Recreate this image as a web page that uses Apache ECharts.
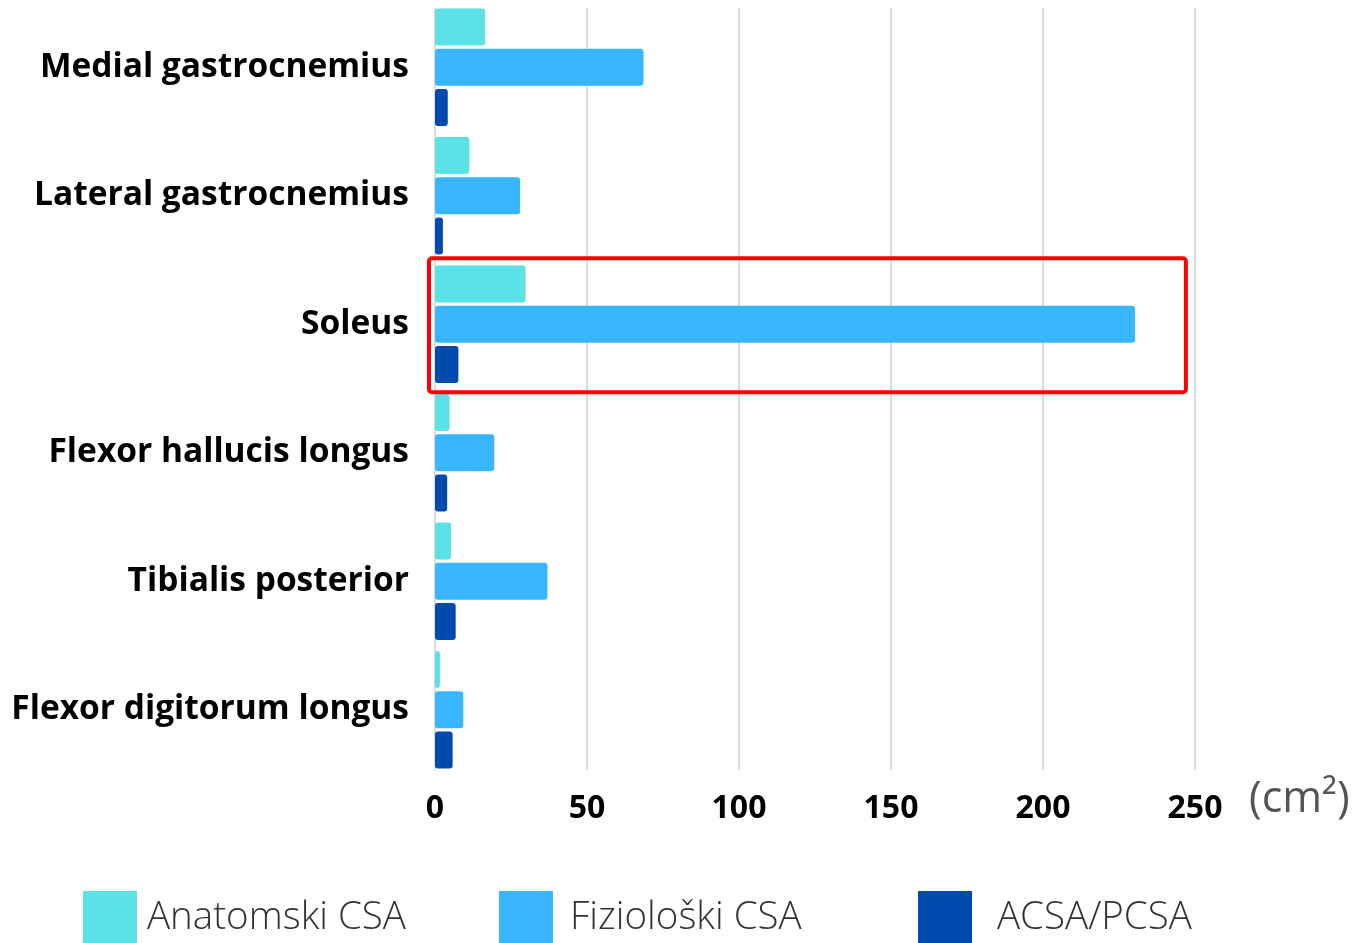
<!DOCTYPE html>
<html>
<head>
<meta charset="utf-8">
<script src="https://cdn.jsdelivr.net/npm/echarts@6/dist/echarts.min.js"></script>
<style>
html, body { margin: 0; padding: 0; background: #fff; }
#chart { width: 1360px; height: 943px; }
</style>
</head>
<body>
<div id="chart"></div>
<script>
// kategorije (misici)
var muscles = ['Medial gastrocnemius', 'Lateral gastrocnemius', 'Soleus',
	'Flexor hallucis longus', 'Tibialis posterior', 'Flexor digitorum longus'];
// vrijednosti u cm2
var anatomskiCSA = [16.5, 11.3, 29.8, 4.8, 5.3, 1.6];
var fizioloskiCSA = [68.6, 28.0, 230.3, 19.5, 37.0, 9.3];
var acsaPcsa = [4.2, 2.6, 7.7, 4.0, 6.8, 5.8];
var xTicks = [0, 50, 100, 150, 200, 250];

var seriesNames = ['Anatomski CSA', 'Fiziološki CSA', 'ACSA/PCSA'];
var colors = ['#5ce1e6', '#38b6ff', '#004aad'];

var chart = echarts.init(document.getElementById('chart'));

function legendFor(i, left, textPad) {
	return {
		data: [seriesNames[i]],
		left: left,
		top: 891,
		padding: 0,
		itemWidth: 54,
		itemHeight: 54,
		itemGap: 0,
		icon: 'rect',
		selectedMode: false,
		textStyle: {
			fontFamily: 'Open Sans',
			fontWeight: 300,
			fontSize: 38.5,
			color: '#333',
			padding: [6, 0, 0, textPad]
		}
	};
}

var option = {
	animation: false,
	color: colors,
	// grid 0: stupci, grid 1: samo mreza
	grid: [
		{ left: 435, right: 165, top: 3, bottom: 169 },
		{ left: 435, right: 165, top: 8, bottom: 173 }
	],
	legend: [legendFor(0, 83, 5), legendFor(1, 499, 12), legendFor(2, 918, 20)],
	xAxis: [{
		type: 'value',
		gridIndex: 0,
		min: xTicks[0],
		max: xTicks[xTicks.length - 1],
		interval: 50,
		axisLine: { show: false },
		axisTick: { show: false },
		splitLine: { show: false },
		axisLabel: { show: false }
	}, {
		type: 'value',
		gridIndex: 1,
		min: xTicks[0],
		max: xTicks[xTicks.length - 1],
		interval: 50,
		axisLine: { show: false },
		axisTick: { show: false },
		splitLine: { show: true, lineStyle: { color: '#dcdcdc', width: 2 } },
		axisLabel: {
			margin: 23,
			color: '#000',
			fontFamily: 'Open Sans',
			fontWeight: 'bold',
			fontSize: 32
		}
	}],
	yAxis: [{
		type: 'category',
		gridIndex: 0,
		data: muscles,
		inverse: true,
		axisLine: { show: false },
		axisTick: { show: false },
		axisLabel: {
			margin: 26,
			color: '#000',
			fontFamily: 'Open Sans',
			fontWeight: 'bold',
			fontSize: 33.5,
			padding: [4, 0, 0, 0]
		}
	}, {
		type: 'value',
		gridIndex: 1,
		axisLine: { show: true, lineStyle: { color: '#dcdcdc', width: 2 } },
		axisTick: { show: false },
		axisLabel: { show: false },
		splitLine: { show: false }
	}],
	series: [anatomskiCSA, fizioloskiCSA, acsaPcsa].map(function(vals, i) {
		return {
			name: seriesNames[i],
			type: 'bar',
			xAxisIndex: 0,
			yAxisIndex: 0,
			data: vals,
			barWidth: 37,
			barGap: '9%',
			z: 3,
			itemStyle: { color: colors[i], borderRadius: 3 }
		};
	})
};
chart.setOption(option);

// crveni okvir oko Soleus + jedinica
var yc = chart.convertToPixel({ yAxisIndex: 0 }, 'Soleus');
var x0 = chart.convertToPixel({ xAxisIndex: 0 }, 0);
var x1 = chart.convertToPixel({ xAxisIndex: 0 }, 247);
chart.setOption({
	graphic: [{
		type: 'text',
		left: 1249,
		top: 778,
		style: { text: '(cm²)', fill: '#555', font: '43px "Open Sans"' }
	}, {
		type: 'rect',
		shape: { x: x0 - 6, y: yc - 66, width: x1 - x0 + 6, height: 134, r: 3 },
		style: { fill: 'none', stroke: '#ff0000', lineWidth: 4 },
		z: 10
	}]
});
</script>
</body>
</html>
